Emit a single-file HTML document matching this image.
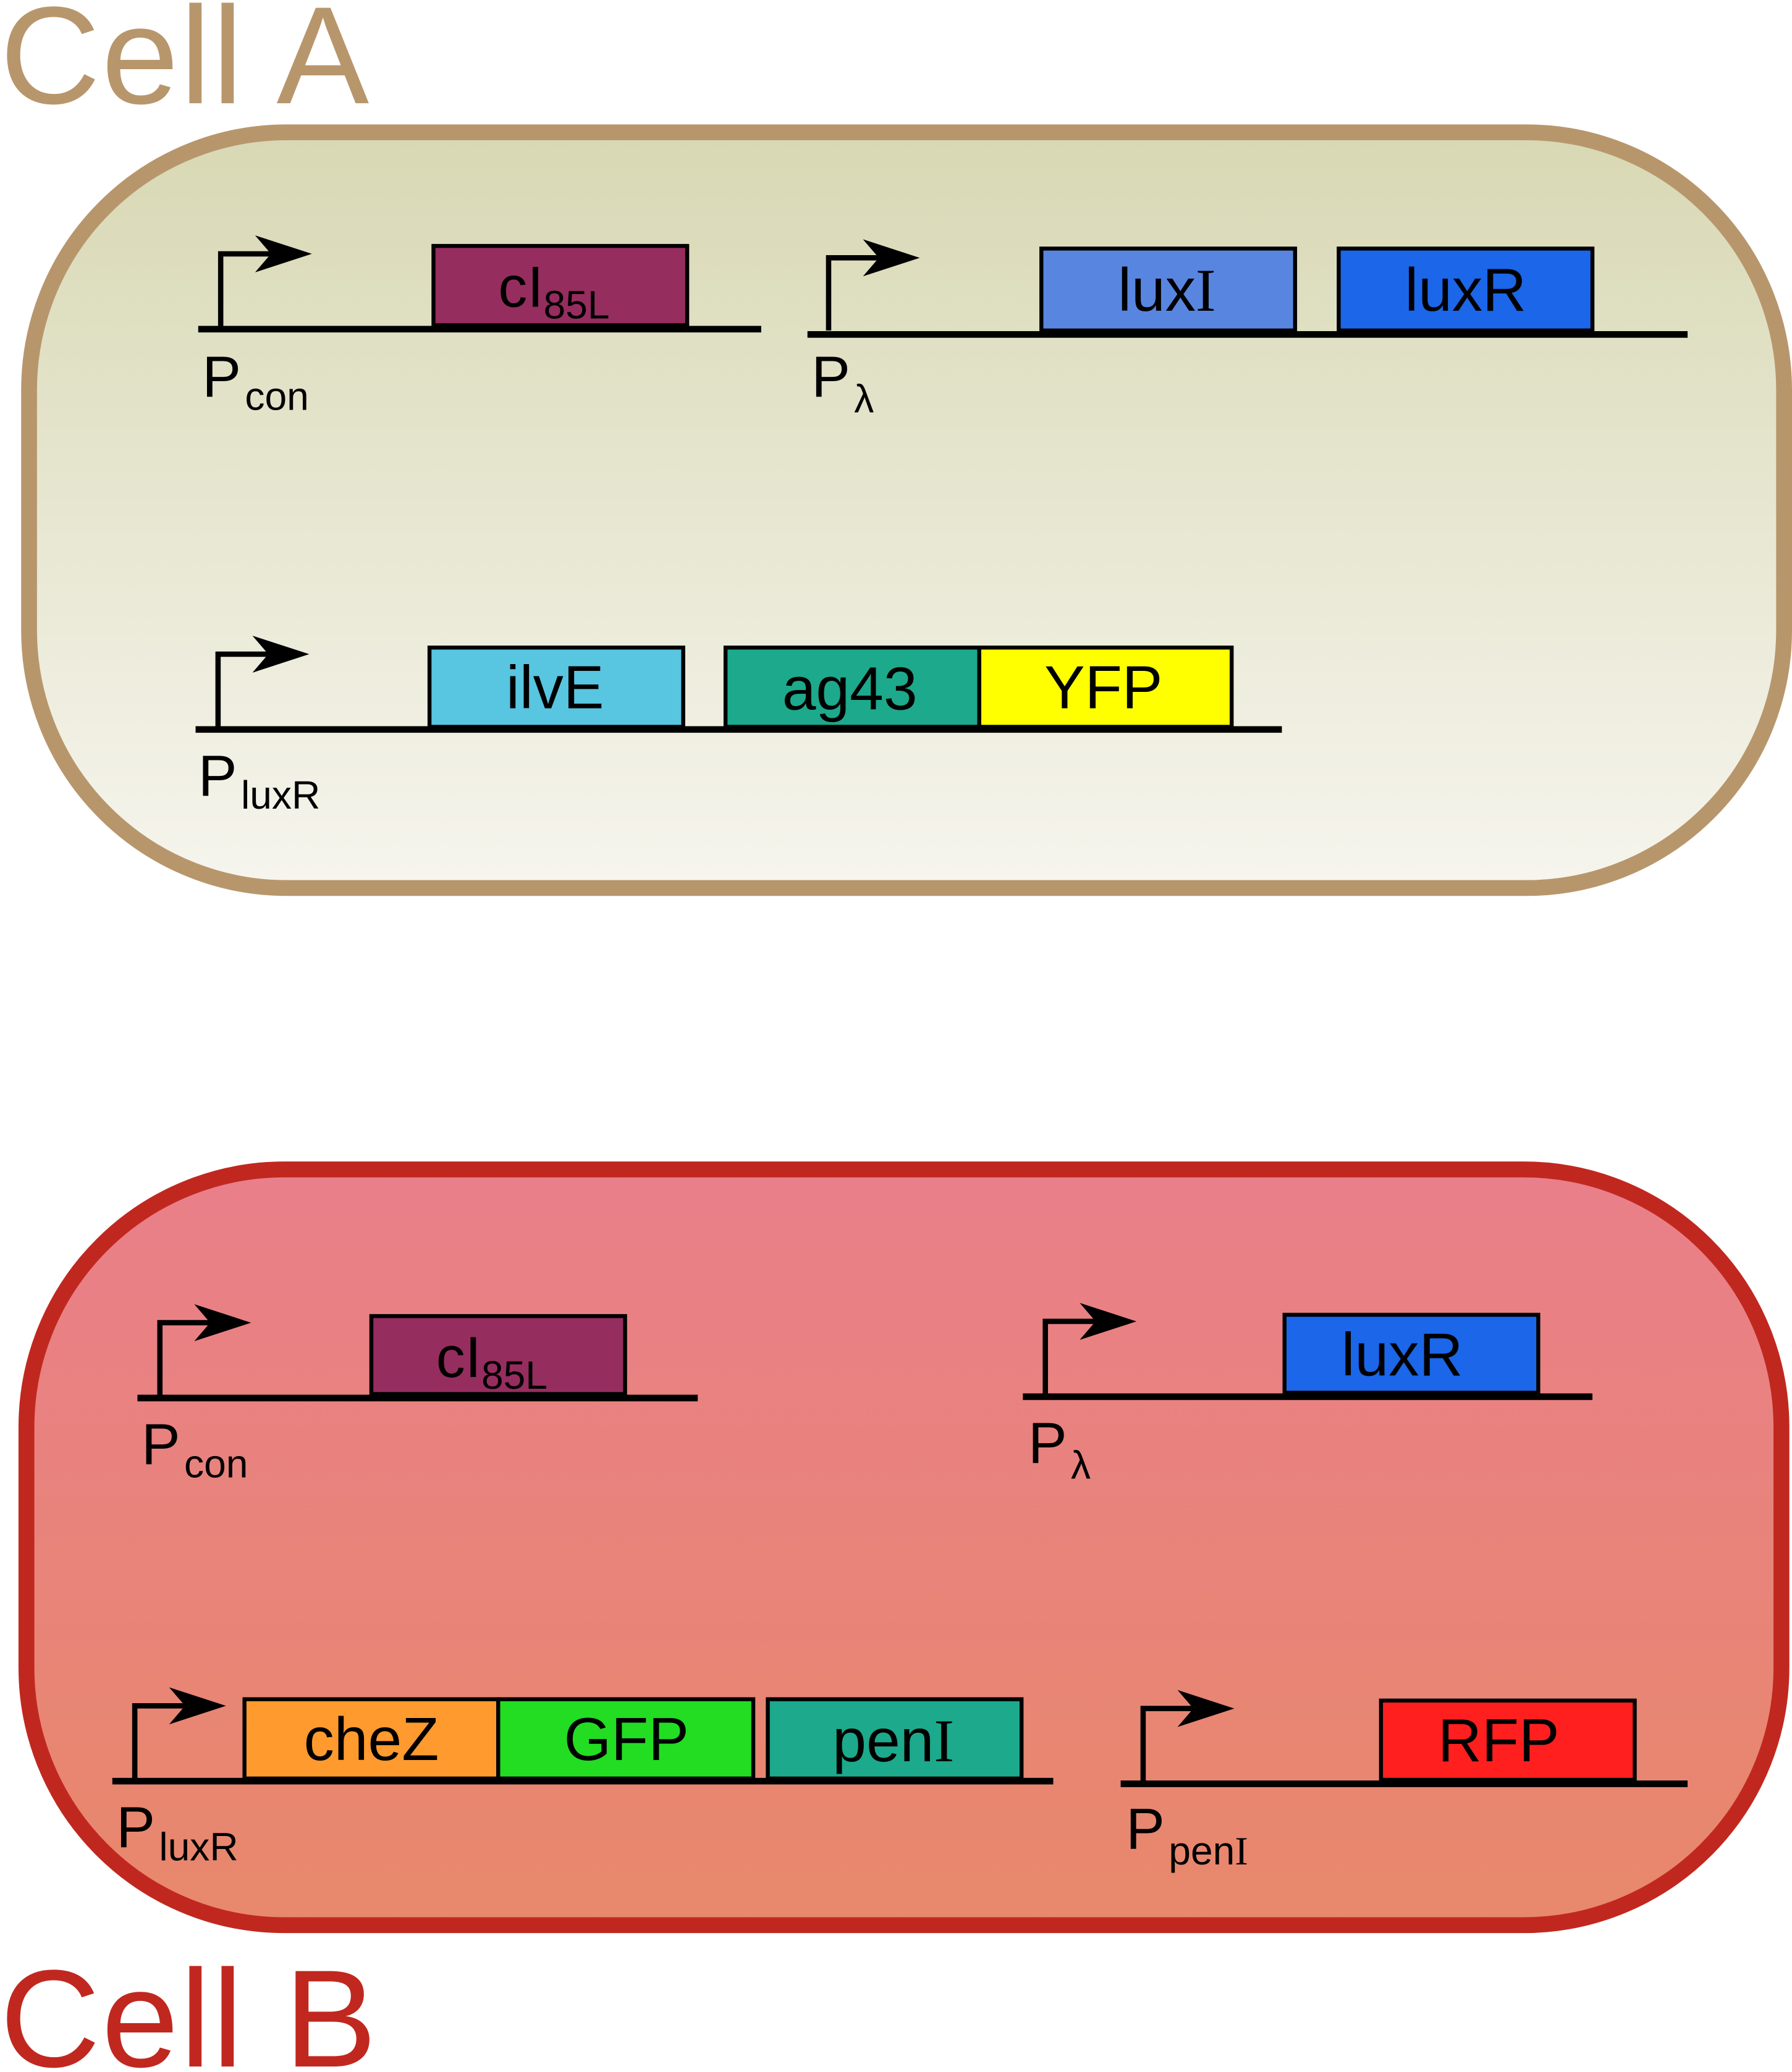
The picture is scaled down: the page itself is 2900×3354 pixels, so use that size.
<!DOCTYPE html>
<html><head><meta charset="utf-8"><style>
html,body{margin:0;padding:0;background:#fff;}
svg{display:block;}
text{font-family:"Liberation Sans",sans-serif;}
.s{font-family:"Liberation Serif",serif;}
</style></head><body>
<svg width="2900" height="3354" viewBox="0 0 1356 1568" xmlns="http://www.w3.org/2000/svg">
<defs>
<linearGradient id="ga" x1="0" y1="0" x2="0" y2="1"><stop offset="0" stop-color="#d8d8b4"/><stop offset="1" stop-color="#f6f5ee"/></linearGradient>
<linearGradient id="gb" x1="0" y1="0" x2="0" y2="1"><stop offset="0" stop-color="#e97f8a"/><stop offset="1" stop-color="#e8886b"/></linearGradient>
</defs>
<text x="0" y="78" font-size="105" letter-spacing="1" fill="#b8966c">Cell A</text>
<rect x="22" y="100" width="1328" height="572" rx="195" ry="195" fill="url(#ga)" stroke="#b8966c" stroke-width="12"/>
<text x="0" y="1564" font-size="105" letter-spacing="1" fill="#c0281f">Cell B</text>
<rect x="20" y="885" width="1328" height="572" rx="195" ry="195" fill="url(#gb)" stroke="#c0281f" stroke-width="12"/>

<g stroke="#000" fill="none" stroke-width="4">
<path d="M167 247 V192 H205"/>
<path d="M627 250 V195 H665"/>
<path d="M165 550 V495 H203"/>
<path d="M121 1056 V1001 H159"/>
<path d="M791 1055 V1000 H829"/>
<path d="M102 1346 V1291 H140"/>
<path d="M865 1348 V1293 H903"/>
</g>
<g fill="#000">
<polygon points="193,178 236,192 193,206 205,192"/>
<polygon points="653,181 696,195 653,209 665,195"/>
<polygon points="191,481 234,495 191,509 203,495"/>
<polygon points="147,987 190,1001 147,1015 159,1001"/>
<polygon points="817,986 860,1000 817,1014 829,1000"/>
<polygon points="128,1277 171,1291 128,1305 140,1291"/>
<polygon points="891,1279 934,1293 891,1307 903,1293"/>
</g>
<g stroke="#000" stroke-width="5">
<line x1="150" y1="249" x2="576" y2="249"/>
<line x1="611" y1="253" x2="1277" y2="253"/>
<line x1="148" y1="552" x2="970" y2="552"/>
<line x1="104" y1="1058" x2="528" y2="1058"/>
<line x1="774" y1="1057" x2="1205" y2="1057"/>
<line x1="85" y1="1348" x2="797" y2="1348"/>
<line x1="848" y1="1350" x2="1277" y2="1350"/>
</g>
<g stroke="#000" stroke-width="3">
<rect x="328" y="186" width="192" height="60" fill="#962d5f"/>
<rect x="788" y="188" width="192" height="62" fill="#5885e0"/>
<rect x="1013" y="188" width="192" height="62" fill="#1b66e9"/>
<rect x="325" y="490" width="192" height="60" fill="#58c5e1"/>
<rect x="549" y="490" width="192" height="60" fill="#1ca98c"/>
<rect x="741" y="490" width="191" height="60" fill="#ffff00"/>
<rect x="281" y="996" width="192" height="59" fill="#962d5f"/>
<rect x="972" y="995" width="192" height="59" fill="#1b66e9"/>
<rect x="185" y="1286" width="192" height="60" fill="#ff9a2e"/>
<rect x="377" y="1286" width="193" height="60" fill="#22dd22"/>
<rect x="581" y="1286" width="192" height="60" fill="#1ca98c"/>
<rect x="1045" y="1287" width="192" height="60" fill="#ff1f1f"/>
</g>
<g font-size="46" fill="#000" text-anchor="middle">
<text x="883" y="235">lux<tspan class="s">I</tspan></text>
<text x="1109" y="235">luxR</text>
<text x="420" y="536">ilvE</text>
<text x="643" y="537">ag43</text>
<text x="835" y="536">YFP</text>
<text x="1061" y="1041">luxR</text>
<text x="281" y="1332">cheZ</text>
<text x="474" y="1332">GFP</text>
<text x="676" y="1333">pen<tspan class="s">I</tspan></text>
<text x="1134" y="1333">RFP</text>
</g>
<g font-size="44" fill="#000">
<text x="377" y="232">cI<tspan font-size="30" dy="9">85L</tspan></text>
<text x="330" y="1042">cI<tspan font-size="30" dy="9">85L</tspan></text>
<text x="153" y="300">P<tspan font-size="30" dx="3" dy="10">con</tspan></text>
<text x="614" y="300">P<tspan font-size="30" dx="3" dy="12">λ</tspan></text>
<text x="150" y="602">P<tspan font-size="30" dx="3" dy="10">luxR</tspan></text>
<text x="107" y="1108">P<tspan font-size="30" dx="3" dy="10">con</tspan></text>
<text x="778" y="1107">P<tspan font-size="30" dx="3" dy="12">λ</tspan></text>
<text x="88" y="1398">P<tspan font-size="30" dx="3" dy="10">luxR</tspan></text>
<text x="852" y="1399">P<tspan font-size="30" dx="3" dy="12">pen<tspan class="s">I</tspan></tspan></text>
</g>
</svg>
</body></html>
